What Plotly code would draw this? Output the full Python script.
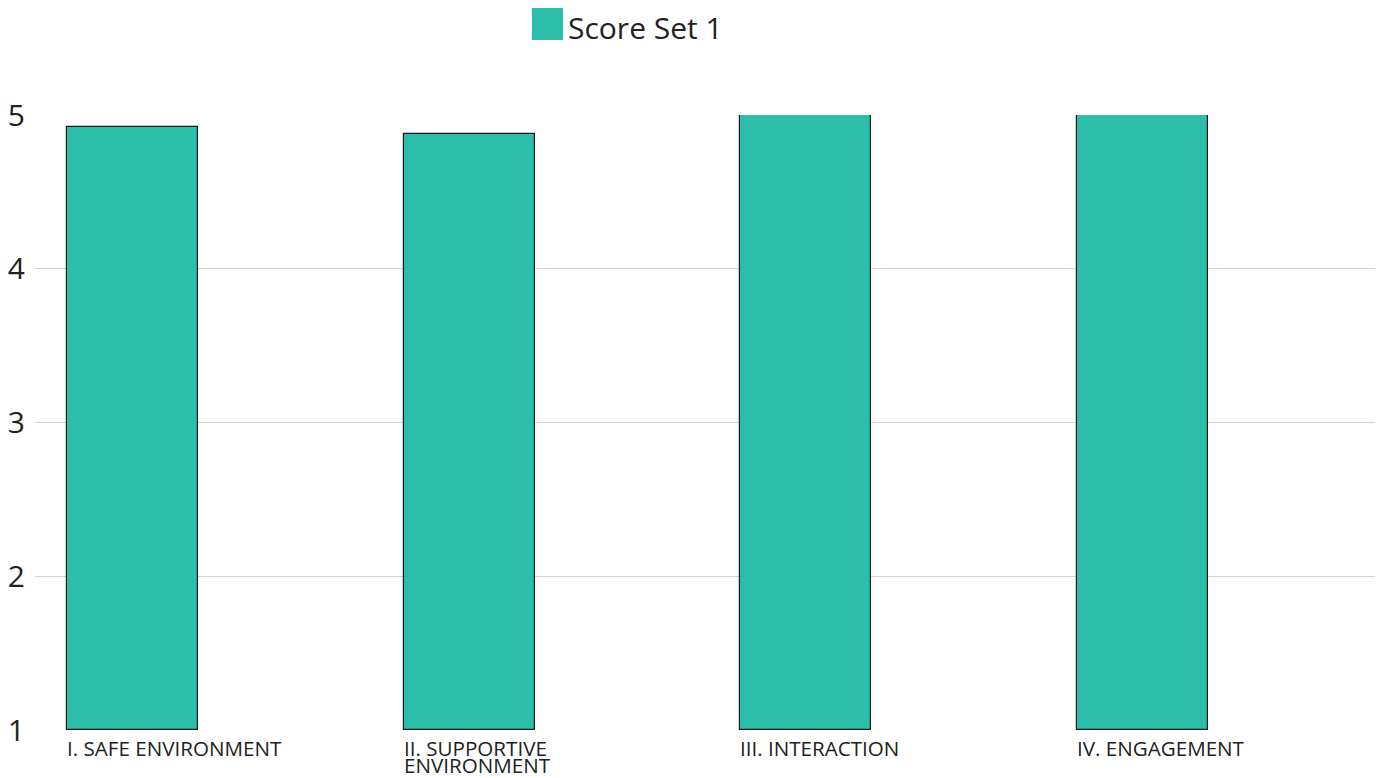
import plotly.graph_objects as go

categories = ["I. SAFE ENVIRONMENT", "II. SUPPORTIVE<br>ENVIRONMENT", "III. INTERACTION", "IV. ENGAGEMENT"]
scores = [4.92, 4.875, 5.0, 5.0]
y_ticks = [1, 2, 3, 4, 5]
series_name = "Score Set 1"
bar_color = "#2bbea8"

BAR_OFFSET = -0.405
BAR_WIDTH = 0.389
x_pos = list(range(len(categories)))

fig = go.Figure()
fig.add_trace(go.Bar(
    x=x_pos, y=[s - 1 for s in scores], base=1,
    name=series_name,
    offset=BAR_OFFSET, width=BAR_WIDTH,
    marker=dict(color=bar_color, line=dict(color="#1a1a1a", width=1.2)),
    showlegend=False,
))

# category labels, left-aligned at the bar's left edge
for i, c in enumerate(categories):
    for j, line in enumerate(c.split("<br>")):
        fig.add_annotation(
            x=i + BAR_OFFSET, y=1, xref="x", yref="y",
            text=line, showarrow=False, xanchor="left", yanchor="top", align="left",
            yshift=-2 - 17 * j, xshift=-2,
            font=dict(family="Open Sans", size=20.6, color="#222222"),
        )

# legend (swatch + label)
fig.add_shape(type="rect", xref="paper", yref="paper",
              x0=0.3709, x1=0.3940, y0=1.122, y1=1.174,
              fillcolor=bar_color, line=dict(width=0))
fig.add_annotation(x=0.3966, y=1.143, xref="paper", yref="paper", text=series_name,
                   showarrow=False, xanchor="left", yanchor="middle",
                   font=dict(family="Open Sans", size=30, color="#222222"))

fig.update_layout(
    width=1376, height=770,
    margin=dict(l=27, r=9, t=107, b=48, autoexpand=False),
    paper_bgcolor="white", plot_bgcolor="white",
    font=dict(family="Open Sans", color="#222222"),
    showlegend=False,
    xaxis=dict(range=[-0.5, 3.48], showticklabels=False, showgrid=False, zeroline=False,
               showline=False, ticks="", automargin=False),
    yaxis=dict(range=[1, 5], tickvals=y_ticks, showgrid=True, gridcolor="#d3d3d3", gridwidth=1,
               zeroline=False, showline=False, ticks="", ticklabelstandoff=9, automargin=False,
               tickfont=dict(size=30, color="#222222")),
    bargap=0,
)

fig.write_html("out.html")
